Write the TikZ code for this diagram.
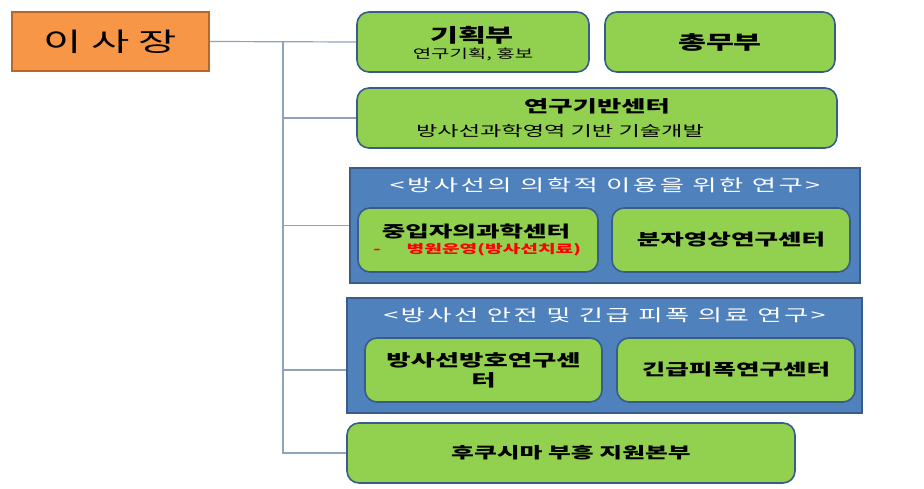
\documentclass[tikz,border=0pt]{standalone}
\usepackage{fontspec}
\setmainfont[FakeStretch=1.6]{Noto Sans CJK KR}
\usetikzlibrary{positioning}

\definecolor{chairfill}{RGB}{247,150,70}
\definecolor{chairline}{RGB}{182,104,44}
\definecolor{unitgreen}{RGB}{146,208,80}
\definecolor{unitline}{RGB}{56,93,138}
\definecolor{groupblue}{RGB}{79,129,189}
\definecolor{groupline}{RGB}{56,93,138}
\definecolor{linkgray}{RGB}{143,163,190}

\tikzset{every picture/.style={line width=0.75pt},
  chairbox/.style={draw=chairline,fill=chairfill,line width=1.6pt,inner sep=0pt},
  unitbox/.style={draw=unitline,fill=unitgreen,rounded corners=12pt,line width=1.6pt,inner sep=0pt,align=center},
  groupbox/.style={draw=groupline,fill=groupblue,line width=1.6pt,inner sep=0pt},
  grouptitle/.style={text=white,inner sep=0pt,font=\fontsize{16.5}{20}\selectfont\addfontfeature{LetterSpace=15}},
  unitname/.style={font=\fontsize{16}{19}\selectfont\bfseries},
  linkline/.style={draw=linkgray,line width=1.2pt}}

\begin{document}
\begin{tikzpicture}[x=1pt,y=1pt,yscale=-1,xscale=1]
\useasboundingbox (0,0) rectangle (924,489);

%Shape: Rectangle
\node[chairbox,minimum width=197pt,minimum height=59pt,font=\fontsize{26}{30}\selectfont] (chair) at (110.5,41.5) {이 사 장};

%Shape: Rounded Rect
\node[unitbox,minimum width=232pt,minimum height=60pt] (plan) at (473,42) {};
% Text Node
\node[inner sep=0pt,font=\fontsize{19}{22}\selectfont\bfseries] (planT) at (472,35) {기획부};
% Text Node
\node[inner sep=0pt,font=\fontsize{12.5}{15}\selectfont] (planS) at (473,54) {연구기획, 홍보};
%Shape: Rounded Rect
\node[unitbox,minimum width=230pt,minimum height=60pt,font=\fontsize{19}{22}\selectfont\bfseries] (admin) at (720,42) {총무부};
%Shape: Rounded Rect
\node[unitbox,minimum width=480pt,minimum height=60pt] (base) at (597,118) {};
% Text Node
\node[inner sep=0pt,font=\fontsize{16.5}{20}\selectfont\bfseries] (baseT) at (597,106) {연구기반센터};
% Text Node
\node[inner sep=0pt,font=\fontsize{14.5}{17}\selectfont] (baseS) at (560,131) {방사선과학영역 기반 기술개발};

%Shape: Rectangle
\node[groupbox,minimum width=510pt,minimum height=115pt] (med) at (605,225.5) {};
% Text Node
\node[grouptitle] (medT) at (605,185) {<방사선의 의학적 이용을 위한 연구>};
%Shape: Rounded Rect
\node[unitbox,minimum width=240pt,minimum height=64pt] (heavy) at (478,240) {};
% Text Node
\node[inner sep=0pt,unitname] (heavyT) at (476,231) {중입자의과학센터};
% Text Node
\node[inner sep=0pt,text=red,anchor=west,font=\fontsize{12}{14}\selectfont\bfseries] (heavyS) at (373,250) {-\hspace{26pt}병원운영(방사선치료)};
%Shape: Rounded Rect
\node[unitbox,minimum width=238pt,minimum height=64pt,unitname] (molec) at (731,240) {분자영상연구센터};

%Shape: Rectangle
\node[groupbox,minimum width=515pt,minimum height=115pt] (safety) at (604.5,355.5) {};
% Text Node
\node[grouptitle] (safetyT) at (604.5,315) {<방사선 안전 및 긴급 피폭 의료 연구>};
%Shape: Rounded Rect
\node[unitbox,minimum width=237pt,minimum height=64pt,font=\fontsize{16.5}{20}\selectfont\bfseries] (protect) at (483.5,370) {방사선방호연구센\\터};
%Shape: Rounded Rect
\node[unitbox,minimum width=238pt,minimum height=64pt,unitname] (emerg) at (736,370) {긴급피폭연구센터};

%Shape: Rounded Rect
\node[unitbox,minimum width=448pt,minimum height=60pt,font=\fontsize{15.5}{19}\selectfont\bfseries] (fuku) at (571,453) {후쿠시마 부흥 지원본부};

%Straight Lines
\coordinate (trunk) at (283,42);
\draw[linkline] (chair.east) -- (plan.west);
\draw[linkline] (trunk) |- (fuku.west);
\draw[linkline] (trunk |- base.west) -- (base.west);
\draw[linkline] (trunk |- med.west) -- (med.west);
\draw[linkline] (trunk |- protect) -- (safety.west |- protect);

\end{tikzpicture}
\end{document}
